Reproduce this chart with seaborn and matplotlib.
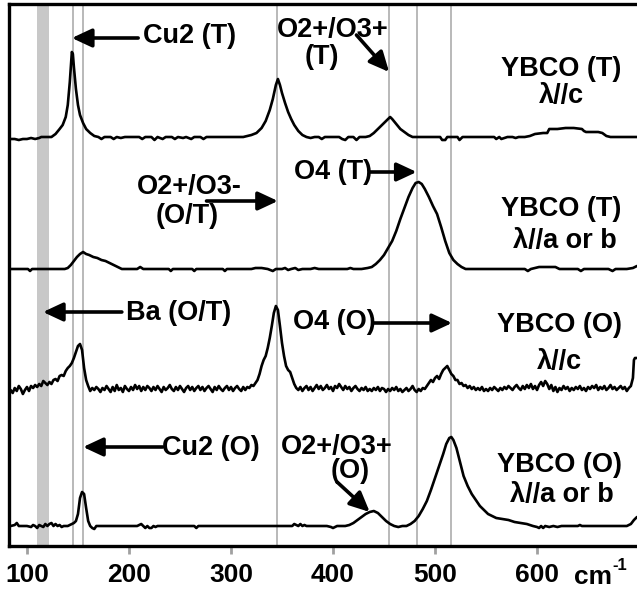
import matplotlib
matplotlib.use('Agg')
import matplotlib.pyplot as plt
import matplotlib.transforms as mtransforms
import seaborn as sns
import pandas as pd

# ---------------- data ----------------
# raman shift, cm-1 / intensity above each trace's own baseline (arb.)
t1_x = [84, 88, 92, 96, 100, 104, 108, 112, 114, 120, 124, 128, 132, 135, 138, 140, 142, 144, 145, 146,
        148, 150, 152, 155, 158, 162, 166, 170, 173, 176, 182, 185, 188, 192, 196, 204, 210, 213, 216, 222,
        225, 228, 233, 236, 242, 245, 248, 253, 256, 261, 264, 270, 273, 276, 290, 305, 312, 316, 320, 325,
        330, 334, 338, 341, 344, 346, 348, 350, 353, 356, 359, 362, 366, 370, 374, 378, 382, 386, 389, 392,
        400, 406, 409, 412, 415, 420, 423, 426, 432, 436, 440, 444, 448, 452, 456, 458, 462, 466, 470, 474,
        478, 484, 492, 500, 505, 507, 510, 512, 518, 522, 524, 527, 534, 544, 552, 558, 560, 563, 565, 568,
        571, 576, 579, 582, 588, 593, 598, 606, 610, 612, 620, 628, 636, 644, 646, 648, 654, 660, 664, 668,
        672, 680, 690, 698]
t1_y = [-2, -2, -3, -2, -2, -1, -2, -1, 0, 0, 0, 3, 8, 12, 20, 32, 55, 85, 83, 70,
        48, 32, 22, 14, 8, 4, 1, 0, -2, 0, 0, -2, 0, -1, 0, 0, 0, -2, 0, 0,
        -3, 0, -2, 0, 0, -2, 0, -1, 0, -2, 0, 0, -2, 0, 0, 0, 0, 1, 2, 4,
        9, 16, 27, 38, 52, 58, 52, 44, 34, 25, 18, 12, 6, 2, 0, -1, 0, 0, -2, 0,
        0, 0, -2, -3, 0, 0, -3, 0, 0, 1, 4, 8, 12, 16, 20, 18, 13, 8, 5, 2,
        0, 0, 0, 0, 0, -3, -3, 0, 0, 0, -3, 0, 0, 0, 0, 0, -2, 0, -2, -1,
        0, 0, -1, 0, 0, 1, 3, 4, 4, 8, 8, 9, 9, 8, 6, 5, 5, 5, 4, 1,
        0, 0, 0, 0]

t2_x = [84, 90, 96, 101, 103, 105, 112, 120, 130, 137, 140, 143, 146, 149, 152, 155, 158, 161, 165, 169,
        173, 177, 181, 185, 189, 193, 200, 208, 211, 214, 222, 232, 239, 241, 243, 252, 262, 264, 266, 280,
        292, 294, 296, 310, 320, 324, 330, 336, 341, 344, 350, 353, 356, 359, 363, 366, 370, 378, 382, 386,
        396, 406, 414, 417, 420, 428, 434, 438, 442, 446, 450, 454, 458, 462, 466, 470, 474, 478, 481, 484,
        487, 490, 494, 498, 502, 506, 510, 514, 518, 522, 526, 530, 540, 550, 560, 570, 580, 588, 591, 594,
        598, 602, 612, 618, 622, 632, 640, 643, 646, 660, 670, 674, 677, 688, 694, 698]
t2_y = [0, 0, 0, 0, -2, 0, 0, 0, 0, 0, 1, 4, 8, 12, 15, 17, 15, 14, 12, 11,
        9, 8, 6, 4, 2, 0, 0, 0, 2, 0, 0, 0, 0, -2, 0, 0, 0, -2, 0, 0,
        0, -2, 0, 0, 0, 1, 1, 0, -2, 0, 0, 1, -1, 0, 1, -1, 0, 0, 1, 0,
        0, 0, 0, 1, 0, 0, 1, 2, 5, 9, 14, 21, 28, 38, 50, 61, 72, 81, 86, 87,
        85, 80, 72, 63, 55, 42, 28, 16, 9, 5, 2, 0, 0, 0, 0, 0, 0, 0, -2, 0,
        1, 2, 2, 2, 0, 0, 0, -2, 0, 0, 0, -2, 0, 0, 1, 3]

t3_x = list(range(84, 694, 2)) + [694, 695, 696, 698]
t3_y = [-2, -5, 0, -3, 2, -1, -6, -2, 1, -3, 2, 0, 3, 1, 4, 2, 7, 5, 3, 6,
        4, 8, 9, 7, 12, 13, 12, 17, 20, 22, 25, 30, 36, 42, 44, 38, 20, 8, 2, -3,
        0, -2, 1, -1, -4, 0, -2, 2, -1, -4, 1, -3, 3, -2, 0, -4, 2, -1, -3, 1,
        -2, 3, -1, 2, -3, 1, -2, 2, 0, -3, 1, -2, 2, -1, -4, 1, -2, 0, 3, -1,
        -3, 1, -2, 2, -1, -4, 0, 2, -2, 1, -3, 0, 2, -2, 1, -3, 0, 2, -1, -4,
        1, -2, 2, -1, -3, 0, 2, -2, 1, -3, 0, 2, -1, -3, 1, -2, 1, 0, 3, 2,
        5, 8, 14, 22, 28, 32, 40, 50, 62, 75, 82, 78, 62, 45, 32, 22, 18, 16, 10, 4,
        0, -2, 1, -3, 0, 2, -2, 1, -3, 0, 3, -1, 2, -2, 0, 3, -1, 1, -3, 2,
        0, 4, 1, -2, 2, -1, 1, -3, 0, 2, -1, -3, 0, -2, 1, -3, -1, -3, 0, -2,
        1, -3, 0, -1, -4, -1, -3, 0, -2, 1, -3, -1, -4, -2, 0, -3, -1, 2, -2, -4,
        -1, -3, 0, -1, 2, 5, 8, 6, 10, 12, 9, 14, 18, 20, 22, 18, 14, 12, 8, 8,
        4, 5, 2, 3, 0, 2, -1, 1, -2, 0, -2, 1, -3, -1, -3, 0, -2, 1, -1, -3,
        0, -2, 1, -1, 2, 0, -2, 1, 3, 0, -2, 2, -1, 3, 0, 4, -1, 2, -2, 3,
        6, 2, 7, 4, -1, 3, -3, 1, -4, 0, -2, 2, -1, 1, -3, 0, -2, 1, -1, 2,
        -2, 0, -3, 1, -1, 2, 0, 3, -2, 1, -1, 2, -2, 0, 3, -1, 1, -2, 0, 2,
        -1, 1, -3, 0, 2, 10, 28, 30, 30]

t4_x = [84, 88, 90, 92, 96, 100, 104, 106, 108, 110, 112, 114, 116, 118, 120, 122, 124, 126, 128, 130,
        132, 134, 136, 140, 144, 146, 148, 150, 152, 154, 156, 158, 160, 162, 164, 166, 168, 172, 180, 190,
        200, 208, 210, 212, 214, 216, 218, 220, 222, 224, 226, 228, 232, 240, 250, 260, 264, 266, 268, 280,
        300, 320, 340, 360, 362, 364, 366, 368, 370, 372, 374, 378, 382, 386, 390, 394, 398, 400, 402, 404,
        408, 412, 416, 420, 424, 428, 432, 436, 440, 444, 448, 452, 456, 460, 464, 468, 472, 476, 480, 484,
        488, 492, 496, 500, 504, 508, 511, 514, 516, 518, 521, 524, 528, 532, 536, 540, 544, 548, 552, 556,
        560, 566, 572, 578, 584, 590, 596, 600, 602, 604, 606, 608, 612, 616, 620, 624, 640, 642, 644, 660,
        680, 688, 692, 695, 698]
t4_y = [0, 1, 3, 0, 0, 0, -1, 1, 0, -2, 1, 0, -1, 2, 0, 2, 3, 0, 2, 0,
        1, -1, 0, 0, 2, 3, 5, 12, 28, 34, 32, 18, 5, 0, -2, -3, 0, 0, 0, 0,
        0, 0, 1, 2, 0, -2, 0, -2, -2, 0, -1, 0, 0, 0, 0, 0, 0, -2, 0, 0,
        0, 0, 0, 0, 2, 1, 0, 2, 0, 1, 0, 0, 0, 0, 0, 0, -1, -2, -1, 0,
        0, 0, 1, 3, 6, 9, 12, 14, 15, 13, 9, 5, 2, 0, -1, 0, 0, 2, 5, 10,
        17, 25, 36, 48, 60, 72, 82, 88, 89, 86, 78, 66, 50, 40, 32, 26, 20, 16, 12, 10,
        8, 7, 6, 4, 3, 2, 0, -1, -2, 0, -2, 0, -1, 0, -1, 0, 0, 1, 0, 0,
        0, 0, 2, 6, 9]

traces = ['YBCO (T) c', 'YBCO (T) ab', 'YBCO (O) c', 'YBCO (O) ab']
trace_x = [t1_x, t2_x, t3_x, t4_x]
trace_y = [t1_y, t2_y, t3_y, t4_y]
offsets = [409, 277, 158, 20]

mode_lines = [145, 155, 345, 455, 482, 516]
ba_band = (110, 122)
xticks = [100, 200, 300, 400, 500, 600]

# ---------------- plot ----------------
sns.set_theme(style='white')
plt.rcParams['font.family'] = ['Liberation Sans', 'DejaVu Sans']
plt.rcParams['font.weight'] = 'bold'
plt.rcParams['text.color'] = 'black'
plt.rcParams['xtick.labelcolor'] = 'black'

frames = []
for name, xs, ys, off in zip(traces, trace_x, trace_y, offsets):
    frames.append(pd.DataFrame({'shift': xs, 'intensity': [v + off for v in ys], 'trace': name}))
df = pd.concat(frames, ignore_index=True)

fig = plt.figure(figsize=(6.37, 5.91), dpi=100)
ax = fig.add_axes([8.5 / 637, 45 / 591, 1 - 8.5 / 637, 542.5 / 591])

ax.axvspan(ba_band[0], ba_band[1], color='#c8c8c8', lw=0, zorder=0)
for xv in mode_lines:
    ax.axvline(xv, color='#a6a6a6', lw=1.1, zorder=1)

for name in traces:
    sns.lineplot(data=df[df['trace'] == name], x='shift', y='intensity', color='black',
                 lw=1.9, estimator=None, sort=False, ax=ax, zorder=3)

ax.set_xlim(81.9, 698)
ax.set_ylim(0, 542.5)
ax.set_xlabel('')
ax.set_ylabel('')
ax.set_yticks([])
ax.set_xticks(xticks)
ax.set_xticklabels([str(t) for t in xticks])
ax.tick_params(axis='x', direction='out', length=6, width=2, color='#a0a0a0',
               labelsize=19, pad=6, bottom=True)
for lab in ax.get_xticklabels():
    lab.set_fontweight('bold')
for side in ['left', 'top', 'bottom']:
    ax.spines[side].set_color('black')
    ax.spines[side].set_linewidth(2.4)
ax.spines['right'].set_visible(False)

# unit after the last tick label
trans = mtransforms.blended_transform_factory(ax.transData, ax.transAxes)
ax.text(636, -0.058, 'cm', transform=trans, ha='left', va='center', fontsize=19,
        fontweight='bold', clip_on=False)
ax.text(673.5, -0.036, '-1', transform=trans, ha='left', va='center', fontsize=12,
        fontweight='bold', clip_on=False)

fs = 19.5
def label(x, y, s, ha='center'):
    ax.text(x, y, s, ha=ha, va='center', fontsize=fs, fontweight='bold', color='black', zorder=5)

def arrow(tail, tip):
    ax.annotate('', xy=tip, xytext=tail,
                arrowprops=dict(arrowstyle='-|>,head_length=0.6,head_width=0.28', color='black',
                                lw=2.6, shrinkA=0, shrinkB=0, mutation_scale=20), zorder=5)

# trace 1
label(259, 510, 'Cu2 (T)')
arrow((209, 508), (144, 508))
label(400, 516, 'O2+/O3+')
label(389, 489, '(T)')
arrow((423, 511), (455, 474))
label(623.5, 477, 'YBCO (T)')
label(623.5, 450, 'λ//c')
# trace 2
label(400, 374, 'O4 (T)')
arrow((436, 374), (482, 374))
label(259, 359, 'O2+/O3-')
label(257, 330, '(O/T)')
arrow((276, 345), (346, 345))
label(623.5, 337, 'YBCO (T)')
label(627.5, 305, 'λ//a or b')
# trace 3
label(249, 233, 'Ba (O/T)')
arrow((193, 234), (115.7, 234))
label(401, 224, 'O4 (O)')
arrow((440, 223), (516.7, 223))
label(621.6, 221, 'YBCO (O)')
label(621.6, 184, 'λ//c')
# trace 4
label(280, 98, 'Cu2 (O)')
arrow((233, 99), (155, 99))
label(404, 99, 'O2+/O3+')
label(416.7, 75, '(O)')
arrow((404, 64), (436, 34))
label(621.6, 81, 'YBCO (O)')
label(624.5, 51, 'λ//a or b')

fig.savefig('out.png', dpi=100)
